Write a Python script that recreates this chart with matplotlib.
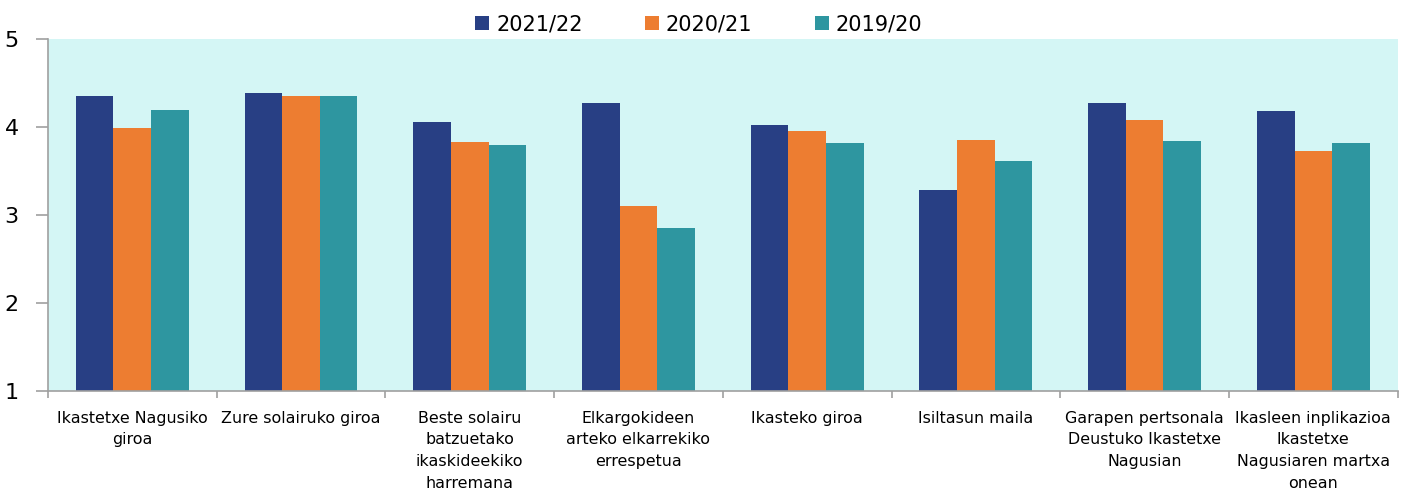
import matplotlib.pyplot as plt
import numpy as np

# Categories and values
categories = [
    'Ikastetxe Nagusiko\ngiroa',
    'Zure solairuko giroa',
    'Beste solairu\nbatzuetako\nikaskideekiko\nharremana',
    'Elkargokideen\narteko elkarrekiko\nerrespetua',
    'Ikasteko giroa',
    'Isiltasun maila',
    'Garapen pertsonala\nDeustuko Ikastetxe\nNagusian',
    'Ikasleen inplikazioa\nIkastetxe\nNagusiaren martxa\nonean',
]
series_names = ['2021/22', '2020/21', '2019/20']
vals_2122 = [4.36, 4.39, 4.06, 4.27, 4.03, 3.29, 4.27, 4.18]
vals_2021 = [3.99, 4.35, 3.83, 3.10, 3.96, 3.85, 4.08, 3.73]
vals_1920 = [4.20, 4.35, 3.80, 2.85, 3.82, 3.62, 3.84, 3.82]
y_ticks = [1, 2, 3, 4, 5]

colors = ['#283f84', '#ed7d31', '#2e96a0']

fig = plt.figure(figsize=(14.09, 4.91), dpi=100)
ax = fig.add_axes([0.034, 0.2035, 0.958, 0.7165])
ax.set_facecolor('#d4f6f5')

x = np.arange(len(categories))
w = 0.223
for i, (name, vals) in enumerate(zip(series_names, [vals_2122, vals_2021, vals_1920])):
    ax.bar(x + (i - 1) * w, vals, width=w, color=colors[i], label=name, zorder=2)

ax.set_ylim(1, 5)
ax.set_xlim(-0.5, len(categories) - 0.5)
ax.set_yticks(y_ticks)
ax.tick_params(axis='y', labelsize=16, length=9, pad=12, color='#a0a0a0', width=1.2)

# category labels at centres, tick marks at the boundaries
ax.set_xticks(x)
ax.set_xticklabels(categories, fontsize=11.4, va='top')
for lbl in ax.get_xticklabels():
    lbl.set_linespacing(1.56)
ax.tick_params(axis='x', which='major', length=0, pad=14)
ax.set_xticks(np.arange(-0.5, len(categories)), minor=True)
ax.tick_params(axis='x', which='minor', length=5, color='#a0a0a0', width=1.2)

for s in ['top', 'right']:
    ax.spines[s].set_visible(False)
for s in ['left', 'bottom']:
    ax.spines[s].set_color('#a0a0a0')
    ax.spines[s].set_linewidth(1.2)

fig.legend(loc='center', bbox_to_anchor=(0.496, 0.951), ncol=3, frameon=False,
           fontsize=15, handlelength=0.65, handleheight=0.65, handletextpad=0.35,
           columnspacing=3.0)

plt.savefig('out.png', dpi=100, facecolor='white')
